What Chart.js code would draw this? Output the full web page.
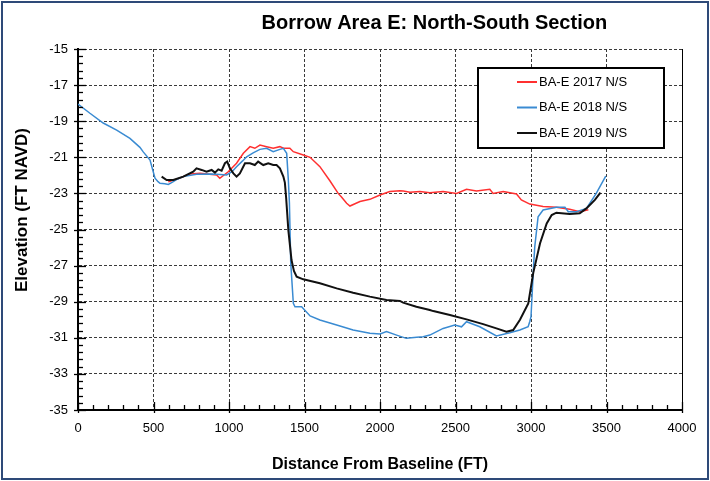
<!DOCTYPE html>
<html>
<head>
<meta charset="utf-8">
<script src="https://cdn.jsdelivr.net/npm/chart.js@4.4.1/dist/chart.umd.min.js"></script>
<style>
  body { margin: 0; background: #fff; }
  #wrap { width: 710px; height: 481px; position: relative; }
</style>
</head>
<body>
<div id="wrap"><canvas id="chart" width="710" height="481"></canvas></div>
<script>
// Survey profiles, distance from baseline (ft) and elevation (ft NAVD)
const seriesLabels = ['BA-E 2017 N/S', 'BA-E 2018 N/S', 'BA-E 2019 N/S'];
const seriesColors = ['#ff3030', '#3a8bd2', '#111111'];

const dist2017 = [598, 653, 697, 741, 808, 918, 939, 995, 1050, 1095, 1139, 1171, 1205, 1249, 1293, 1337, 1360, 1403, 1426, 1492, 1537, 1602, 1668, 1723, 1745, 1779, 1801, 1867, 1933, 2000, 2065, 2132, 2154, 2198, 2264, 2330, 2418, 2507, 2573, 2639, 2727, 2749, 2816, 2904, 2936, 2992, 3080, 3168, 3256, 3323, 3380];
const elev2017 = [-22.35, -22.22, -22.07, -21.93, -21.89, -21.98, -22.16, -21.8, -21.33, -20.78, -20.41, -20.5, -20.32, -20.41, -20.5, -20.41, -20.5, -20.5, -20.69, -20.87, -21.0, -21.52, -22.3, -23.0, -23.2, -23.55, -23.7, -23.45, -23.33, -23.09, -22.9, -22.85, -22.87, -22.94, -22.9, -22.96, -22.9, -23.0, -22.77, -22.87, -22.77, -23.0, -22.9, -23.03, -23.36, -23.59, -23.73, -23.77, -23.88, -24.01, -23.9];

const dist2018 = [0, 79, 167, 256, 344, 410, 432, 477, 495, 510, 530, 543, 575, 598, 620, 631, 660, 697, 785, 880, 918, 984, 1020, 1050, 1090, 1117, 1160, 1205, 1249, 1293, 1337, 1360, 1382, 1393, 1400, 1409, 1426, 1437, 1481, 1537, 1602, 1713, 1822, 1933, 2000, 2043, 2110, 2174, 2243, 2286, 2330, 2418, 2495, 2540, 2573, 2661, 2771, 2860, 2926, 2981, 2992, 3000, 3018, 3025, 3047, 3080, 3168, 3225, 3247, 3301, 3367, 3432, 3495];
const elev2018 = [-18.05, -18.56, -19.1, -19.49, -19.95, -20.45, -20.7, -21.15, -21.7, -22.16, -22.35, -22.44, -22.47, -22.5, -22.4, -22.35, -22.2, -22.07, -21.94, -21.92, -21.94, -21.98, -21.8, -21.52, -21.2, -20.97, -20.75, -20.56, -20.5, -20.69, -20.56, -20.5, -20.78, -22.26, -23.5, -26.87, -29.09, -29.28, -29.28, -29.79, -30.01, -30.29, -30.57, -30.75, -30.79, -30.66, -30.85, -31.03, -30.97, -30.94, -30.85, -30.48, -30.29, -30.39, -30.11, -30.39, -30.9, -30.72, -30.57, -30.39, -30.1, -29.83, -26.87, -25.95, -24.29, -23.92, -23.77, -23.77, -24.01, -24.01, -23.83, -23.0, -22.04];

const dist2019 = [554, 587, 631, 697, 763, 785, 819, 851, 885, 907, 929, 951, 973, 988, 1006, 1029, 1050, 1072, 1106, 1139, 1171, 1193, 1227, 1260, 1293, 1315, 1337, 1360, 1370, 1378, 1393, 1414, 1430, 1448, 1492, 1602, 1713, 1822, 1933, 2043, 2132, 2153, 2241, 2330, 2353, 2463, 2573, 2683, 2771, 2837, 2882, 2927, 2982, 3015, 3060, 3104, 3137, 3168, 3256, 3323, 3367, 3423, 3460];
const elev2019 = [-22.07, -22.26, -22.26, -22.07, -21.8, -21.61, -21.7, -21.8, -21.7, -21.85, -21.67, -21.74, -21.33, -21.24, -21.61, -21.89, -22.07, -21.89, -21.33, -21.33, -21.43, -21.24, -21.43, -21.33, -21.43, -21.43, -21.61, -22.07, -22.4, -23.2, -25.03, -26.69, -27.3, -27.61, -27.76, -27.98, -28.26, -28.5, -28.72, -28.9, -28.96, -29.05, -29.28, -29.46, -29.52, -29.74, -29.98, -30.24, -30.48, -30.66, -30.57, -30.0, -29.1, -27.4, -25.76, -24.66, -24.2, -24.07, -24.14, -24.1, -23.83, -23.36, -22.96];

const distRange = [0, 4000];
const elevRange = [-35, -15];

const FONT = "'Liberation Sans', Arial, sans-serif";
Chart.defaults.font.family = FONT;
Chart.defaults.color = '#000';

function toPoints(xs, ys) {
    return xs.map((x, i) => ({ x: x, y: ys[i] }));
}

// marco azul, titulos, tiques menores e legenda
const decorPlugin = {
    id: 'decor',
    beforeDraw(chart) {
        const c = chart.ctx;
        c.save();
        c.fillStyle = '#fff';
        c.fillRect(0, 0, chart.width, chart.height);
        c.restore();
    },
    afterDraw(chart) {
        const c = chart.ctx;
        const a = chart.chartArea;
        const xs = chart.scales.x, ys = chart.scales.y;
        c.save();

        // outer frame
        c.strokeStyle = '#2e4a78';
        c.lineWidth = 2;
        c.strokeRect(2, 2, chart.width - 4, chart.height - 4);

        // right edge of the plot
        c.strokeStyle = '#000';
        c.lineWidth = 1;
        c.beginPath();
        c.moveTo(a.right + 0.5, a.top);
        c.lineTo(a.right + 0.5, a.bottom);
        c.stroke();

        // minor ticks
        c.lineWidth = 1.3;
        for (let i = 0; i <= 50; i++) {
            const v = elevRange[0] + i * 0.4;
            const y = Math.round(ys.getPixelForValue(v)) + 0.5;
            const major = i % 5 === 0;
            c.beginPath();
            c.moveTo(a.left - (major ? 4 : 0), y);
            c.lineTo(a.left + (major ? 8 : 5), y);
            c.stroke();
        }
        for (let v = distRange[0]; v <= distRange[1]; v += 100) {
            const x = Math.round(xs.getPixelForValue(v)) + 0.5;
            const major = v % 500 === 0;
            c.beginPath();
            c.moveTo(x, a.bottom + (major ? 3 : 0));
            c.lineTo(x, a.bottom - (major ? 8 : 5));
            c.stroke();
        }

        c.fillStyle = '#000';
        // title
        c.font = "bold 20px " + FONT;
        c.textAlign = 'center';
        c.textBaseline = 'middle';
        c.fillText('Borrow Area E: North-South Section', a.left + (a.right - a.left) * 0.59, 23);

        // y axis title
        c.save();
        c.translate(22, a.top + (a.bottom - a.top) * 0.446);
        c.rotate(-Math.PI / 2);
        c.font = "bold 17px " + FONT;
        c.fillText('Elevation (FT NAVD)', 0, 0);
        c.restore();

        // legend box
        const bx = 478, by = 68, bw = 186, bh = 80;
        c.fillStyle = '#fff';
        c.fillRect(bx, by, bw, bh);
        c.strokeStyle = '#000';
        c.lineWidth = 2;
        c.strokeRect(bx, by, bw, bh);
        c.font = "13px " + FONT;
        c.textAlign = 'left';
        chart.data.datasets.forEach((ds, i) => {
            const ry = by + 14 + i * 25.5;
            c.strokeStyle = ds.borderColor;
            c.lineWidth = 2;
            c.beginPath();
            c.moveTo(bx + 39, ry);
            c.lineTo(bx + 59, ry);
            c.stroke();
            c.fillStyle = '#000';
            c.fillText(ds.label, bx + 61, ry);
        });
        c.restore();
    }
};

const datasets = [
    { label: seriesLabels[0], data: toPoints(dist2017, elev2017), borderColor: seriesColors[0], borderWidth: 1.5, order: 3 },
    { label: seriesLabels[1], data: toPoints(dist2018, elev2018), borderColor: seriesColors[1], borderWidth: 1.5, order: 2 },
    { label: seriesLabels[2], data: toPoints(dist2019, elev2019), borderColor: seriesColors[2], borderWidth: 2, order: 1 }
];

new Chart(document.getElementById('chart'), {
    type: 'line',
    data: { datasets: datasets },
    options: {
        responsive: false,
        animation: false,
        parsing: false,
        elements: { point: { radius: 0 }, line: { tension: 0, fill: false } },
        layout: { padding: { top: 49, right: 28, bottom: 0, left: 0 } },
        plugins: { legend: { display: false }, tooltip: { enabled: false }, title: { display: false } },
        scales: {
            x: {
                type: 'linear',
                min: distRange[0],
                max: distRange[1],
                afterFit: (s) => { s.height = 71; },
                ticks: { stepSize: 500, padding: 11, font: { size: 13 }, color: '#000', maxRotation: 0,
                         callback: (v) => String(v) },
                grid: { color: '#3a3a3a', lineWidth: 1, drawTicks: false },
                border: { display: true, color: '#000', width: 2, dash: [3, 2] },
                title: { display: true, text: 'Distance From Baseline (FT)', font: { size: 16, weight: 'bold' }, color: '#000', padding: { top: 0, bottom: 7 } }
            },
            y: {
                type: 'linear',
                min: elevRange[0],
                max: elevRange[1],
                afterFit: (s) => { s.width = 78; },
                ticks: { stepSize: 2, padding: 10, font: { size: 13 }, color: '#000' },
                grid: { color: '#3a3a3a', lineWidth: 1, drawTicks: false },
                border: { display: true, color: '#000', width: 2, dash: [3, 2] },
                title: { display: false }
            }
        }
    },
    plugins: [decorPlugin]
});
</script>
</body>
</html>
